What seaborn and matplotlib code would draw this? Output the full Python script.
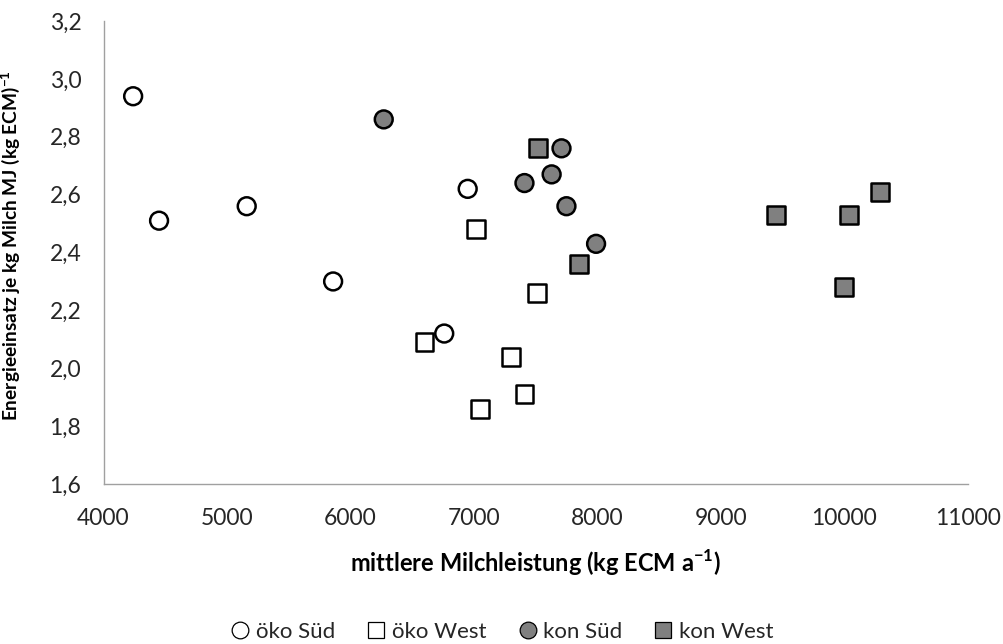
import pandas as pd
import matplotlib
matplotlib.use("Agg")
import matplotlib.pyplot as plt
import seaborn as sns
from matplotlib.ticker import FuncFormatter, MultipleLocator

# --- Daten ---
oeko_sued_x = [4240, 4450, 5160, 5860, 6760, 6950]
oeko_sued_y = [2.94, 2.51, 2.56, 2.30, 2.12, 2.62]
oeko_west_x = [6600, 7020, 7050, 7300, 7410, 7510]
oeko_west_y = [2.09, 2.48, 1.86, 2.04, 1.91, 2.26]
kon_sued_x = [6270, 7410, 7630, 7710, 7750, 7990]
kon_sued_y = [2.86, 2.64, 2.67, 2.76, 2.56, 2.43]
kon_west_x = [7520, 7850, 9450, 10000, 10040, 10290]
kon_west_y = [2.76, 2.36, 2.53, 2.28, 2.53, 2.61]

groups = ["öko Süd", "öko West", "kon Süd", "kon West"]
GREY = "#808080"

df = pd.concat([
    pd.DataFrame({"x": oeko_sued_x, "y": oeko_sued_y, "Gruppe": "öko Süd"}),
    pd.DataFrame({"x": oeko_west_x, "y": oeko_west_y, "Gruppe": "öko West"}),
    pd.DataFrame({"x": kon_sued_x, "y": kon_sued_y, "Gruppe": "kon Süd"}),
    pd.DataFrame({"x": kon_west_x, "y": kon_west_y, "Gruppe": "kon West"}),
], ignore_index=True)

sns.set_style("white")
plt.rcParams["font.family"] = ["Lato", "DejaVu Sans"]
plt.rcParams["mathtext.fontset"] = "custom"
plt.rcParams["mathtext.rm"] = "Lato"
plt.rcParams["mathtext.bf"] = "Lato:bold"

fig = plt.figure(figsize=(10.04, 6.44), dpi=100)
ax = fig.add_axes([0.1031, 0.2484, 0.8607, 0.719])

sns.scatterplot(data=df, x="x", y="y", hue="Gruppe", style="Gruppe",
                hue_order=groups, style_order=groups,
                palette={"öko Süd": "white", "öko West": "white",
                         "kon Süd": GREY, "kon West": GREY},
                markers={"öko Süd": "o", "öko West": "s",
                         "kon Süd": "o", "kon West": "s"},
                s=165, edgecolor="black", linewidth=1.8, ax=ax, zorder=3)

ax.set_xlim(4000, 11000)
ax.set_ylim(1.6, 3.2)
ax.xaxis.set_major_locator(MultipleLocator(1000))
ax.yaxis.set_major_locator(MultipleLocator(0.2))
ax.yaxis.set_major_formatter(FuncFormatter(lambda v, p: f"{v:.1f}".replace(".", ",")))
ax.xaxis.set_major_formatter(FuncFormatter(lambda v, p: f"{v:.0f}"))

for side in ["top", "right"]:
    ax.spines[side].set_visible(False)
for side in ["left", "bottom"]:
    ax.spines[side].set_color("#a0a0a0")
    ax.spines[side].set_linewidth(1.0)
ax.tick_params(axis="both", direction="out", length=8, width=1.0,
               color="#a0a0a0", labelsize=16.5, labelcolor="#262626")
ax.tick_params(axis="x", pad=9)
ax.tick_params(axis="y", pad=8)

ax.set_xlabel("mittlere Milchleistung (kg ECM a$^{\\mathbf{-1}}$)",
              fontsize=17, fontweight="bold", color="black")
ax.set_ylabel("Energieeinsatz je kg Milch MJ (kg ECM)$^{\\mathbf{-1}}$",
              fontsize=13.8, fontweight="bold", color="black")
ax.xaxis.set_label_coords(0.5, -0.137)
ax.yaxis.set_label_coords(-0.094, 0.515)

handles, labels = ax.get_legend_handles_labels()
ax.get_legend().remove()
leg = fig.legend(handles, labels, loc="center", bbox_to_anchor=(0.5, 0.019),
                 ncol=4, frameon=False, fontsize=16, handlelength=0.9,
                 handletextpad=0.25, columnspacing=1.4, labelcolor="#262626")
for h in leg.legend_handles:
    if hasattr(h, "set_markersize"):
        h.set_markersize(12)
        h.set_markeredgewidth(0.9)
    else:
        h.set_sizes([140])
        h.set_linewidth(0.9)

fig.savefig("out.png", dpi=100)
